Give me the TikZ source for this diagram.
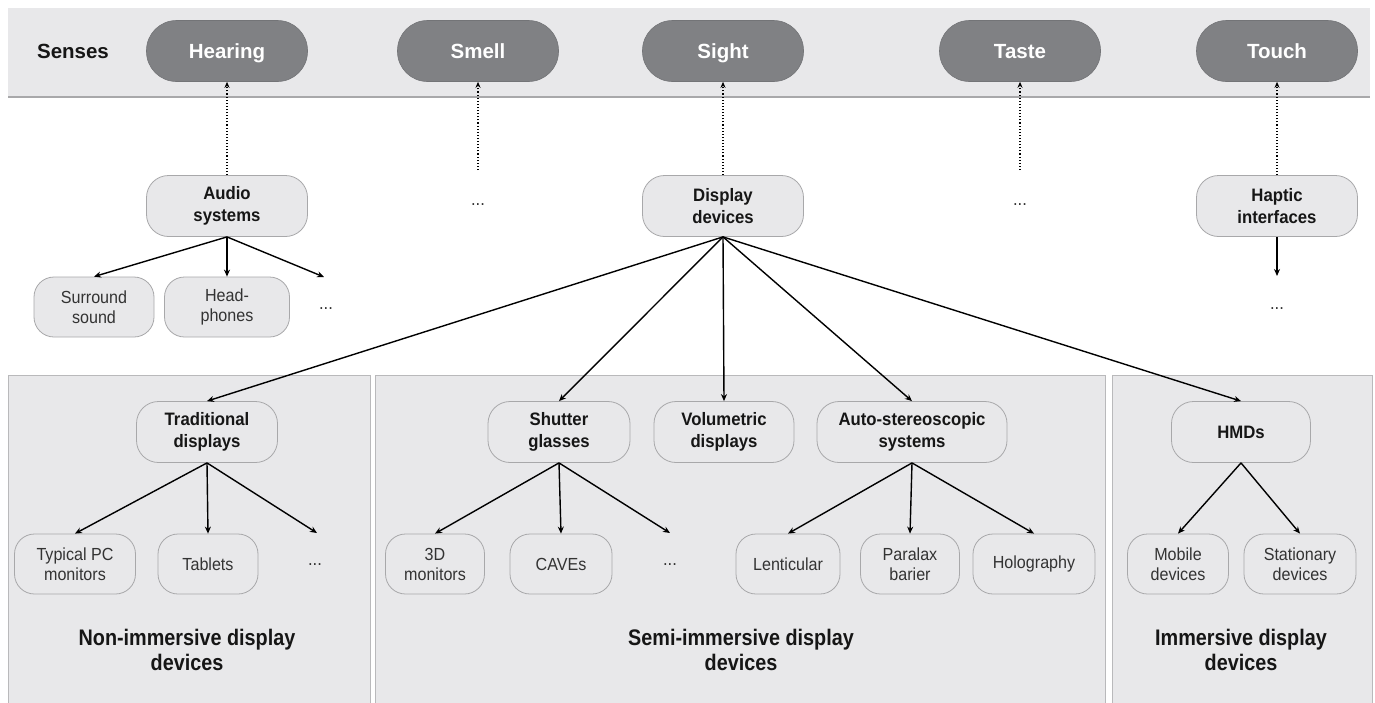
\documentclass[tikz,border=0pt]{standalone}
\usepackage{fontspec}
\setmainfont{Liberation Sans}
\newfontfamily\midfont[FakeStretch=0.93]{Liberation Sans}
\newfontfamily\leaffont[FakeStretch=0.92]{Liberation Sans}
\newfontfamily\grpfont[FakeStretch=0.88]{Liberation Sans}
\usetikzlibrary{arrows.meta}
\definecolor{bandgray}{HTML}{E8E8EA}
\definecolor{pillgray}{HTML}{808184}
\definecolor{edgegray}{HTML}{A8A8AA}
\definecolor{txtgray}{HTML}{333333}
\definecolor{txtblack}{HTML}{161616}
\tikzset{
  sense/.style={rectangle, rounded corners=30pt, fill=pillgray, draw=pillgray!90!black, line width=0.6pt,
    minimum width=161pt, minimum height=61pt, text=white, text height=14.7pt, text depth=0pt,
    font=\fontsize{20.5}{24}\selectfont\bfseries},
  mid/.style={rectangle, rounded corners=22pt, fill=bandgray, draw=edgegray, line width=0.8pt,
    minimum height=61pt, align=center, text=txtblack, font=\midfont\fontsize{18}{21.5}\selectfont\bfseries},
  leaf/.style={rectangle, rounded corners=20pt, fill=bandgray, draw=edgegray, line width=0.8pt,
    minimum height=60pt, align=center, text=txtgray, font=\leaffont\fontsize{17.5}{20}\selectfont},
  panel/.style={fill=bandgray, draw=edgegray!80, line width=0.8pt},
  grp/.style={align=center, text=txtblack, font=\grpfont\fontsize{22.5}{24.5}\selectfont\bfseries},
  dots/.style={font=\leaffont\fontsize{18}{19}\selectfont, text=txtgray},
  arr/.style={-{Stealth[length=7pt,width=6pt]}, line width=1.4pt, black},
  darr/.style={-{Stealth[length=6pt,width=5pt]}, line width=1.1pt, dotted, black},
}
\begin{document}
\begin{tikzpicture}[x=1pt,y=-1pt]
\useasboundingbox (0,0) rectangle (1375,702);
\fill[white] (0,0) rectangle (1375,702);
% top band
\fill[bandgray] (8,8) rectangle (1370,97);
\draw[edgegray, line width=1.5pt] (8,97) -- (1370,97);
% panels
\draw[panel] (8,375) rectangle (370,705);
\draw[panel] (375,375) rectangle (1105,705);
\draw[panel] (1112,375) rectangle (1372,705);

\node[text height=14.7pt, text depth=0pt, text=txtblack, font=\fontsize{20.5}{24}\selectfont\bfseries] (senses) at (73,51) {Senses};
\node[sense] (hearing) at (227,51) {Hearing};
\node[sense] (smell) at (478,51) {Smell};
\node[sense] (sight) at (723,51) {Sight};
\node[sense] (taste) at (1020,51) {Taste};
\node[sense] (touch) at (1277,51) {Touch};

\node[mid, minimum width=161pt] (audio) at (227,206) {Audio\\systems};
\node[dots] (smelldots) at (478,205) {...};
\node[mid, minimum width=161pt] (display) at (723,206) {Display\\devices};
\node[dots] (tastedots) at (1020,205) {...};
\node[mid, minimum width=161pt] (haptic) at (1277,206) {Haptic\\interfaces};
\node[dots] (hapticdots) at (1277,309) {...};
\coordinate (hapticend) at (1277,276);

\coordinate (smelltop) at (478,170);
\coordinate (tastetop) at (1020,170);

\draw[darr] (audio.north) -- (hearing.south);
\draw[darr] (smelltop) -- (smell.south);
\draw[darr] (display.north) -- (sight.south);
\draw[darr] (tastetop) -- (taste.south);
\draw[darr] (haptic.north) -- (touch.south);
\draw[arr] (haptic.south) -- (hapticend);

\node[leaf, minimum width=120pt] (surround) at (94,307) {Surround\\sound};
\node[leaf, minimum width=125pt] (headph) at (227,307) {Head-\\phones};
\node[dots] (audiodots) at (326,309) {...};
\coordinate (audiodotsend) at (324,277);
\draw[arr] (audio.south) -- (surround.north);
\draw[arr] (audio.south) -- (headph.north);
\draw[arr] (audio.south) -- (audiodotsend);

% non-immersive
\node[mid, minimum width=141pt] (trad) at (207,432) {Traditional\\displays};
\node[leaf, minimum width=121pt] (pcmon) at (75,564) {Typical PC\\monitors};
\node[leaf, minimum width=100pt] (tablets) at (208,564) {Tablets};
\node[dots] (traddots) at (315,565) {...};
\coordinate (traddotsend) at (317,533);
\node[grp] (nonimm) at (187,650) {Non-immersive display\\devices};

% semi-immersive
\node[mid, minimum width=142pt] (shutter) at (559,432) {Shutter\\glasses};
\node[mid, minimum width=140pt] (volum) at (724,432) {Volumetric\\displays};
\node[mid, minimum width=190pt] (auto) at (912,432) {Auto-stereoscopic\\systems};
\node[leaf, minimum width=99pt] (mon3d) at (435,564) {3D\\monitors};
\node[leaf, minimum width=102pt] (caves) at (561,564) {CAVEs};
\node[dots] (shutdots) at (670,565) {...};
\coordinate (shutdotsend) at (670,533);
\node[leaf, minimum width=104pt] (lentic) at (788,564) {Lenticular};
\node[leaf, minimum width=99pt] (paralax) at (910,564) {Paralax\\barier};
\node[leaf, minimum width=122pt] (holo) at (1034,564) {Holography};
\node[grp] (semi) at (741,650) {Semi-immersive display\\devices};

% immersive
\node[mid, minimum width=139pt] (hmds) at (1241,432) {HMDs};
\node[leaf, minimum width=101pt] (mobile) at (1178,564) {Mobile\\devices};
\node[leaf, minimum width=112pt] (station) at (1300,564) {Stationary\\devices};
\node[grp] (imm) at (1241,650) {Immersive display\\devices};

% connectors from display devices
\draw[arr] (display.south) -- (trad.north);
\draw[arr] (display.south) -- (shutter.north);
\draw[arr] (display.south) -- (volum.north);
\draw[arr] (display.south) -- (auto.north);
\draw[arr] (display.south) -- (hmds.north);

\draw[arr] (trad.south) -- (pcmon.north);
\draw[arr] (trad.south) -- (tablets.north);
\draw[arr] (trad.south) -- (traddotsend);

\draw[arr] (shutter.south) -- (mon3d.north);
\draw[arr] (shutter.south) -- (caves.north);
\draw[arr] (shutter.south) -- (shutdotsend);

\draw[arr] (auto.south) -- (lentic.north);
\draw[arr] (auto.south) -- (paralax.north);
\draw[arr] (auto.south) -- (holo.north);

\draw[arr] (hmds.south) -- (mobile.north);
\draw[arr] (hmds.south) -- (station.north);
\end{tikzpicture}
\end{document}
